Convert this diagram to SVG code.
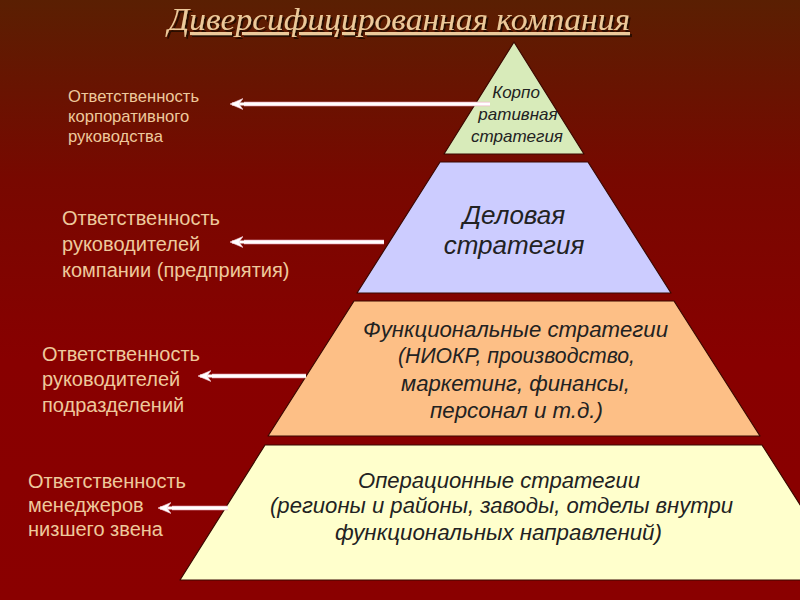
<svg xmlns="http://www.w3.org/2000/svg" width="800" height="600" viewBox="0 0 800 600">
<defs>
<linearGradient id="bg" x1="0" y1="0" x2="0" y2="1">
<stop offset="0" stop-color="#5a1f02"/>
<stop offset="0.3" stop-color="#780800"/>
<stop offset="0.6" stop-color="#880000"/>
<stop offset="1" stop-color="#8a0000"/>
</linearGradient>
<filter id="sh" x="-5%" y="-30%" width="110%" height="160%">
<feDropShadow dx="2" dy="2" stdDeviation="0.6" flood-color="#2a0800" flood-opacity="1"/>
</filter>
<marker id="ah" viewBox="0 0 14 12" refX="11" refY="6" markerWidth="14" markerHeight="12" markerUnits="userSpaceOnUse" orient="auto">
<path d="M0,0.5 L13,6 L0,11.5 L4,6 Z" fill="#ffffff" stroke="#f4c8d4" stroke-width="0.6"/>
</marker>
<style>
.shape{stroke:#3a0800;stroke-width:1.2;stroke-linejoin:round}
.in{font-family:"Liberation Sans",Arial,sans-serif;font-style:italic;fill:#222222;text-anchor:middle}
.lbl{font-family:"Liberation Sans",Arial,sans-serif;fill:#eec99c}
.arw{stroke:#ffffff;stroke-width:3;fill:none;marker-end:url(#ah)}
.arwu{stroke:#f0b8c8;stroke-width:4.5;fill:none}
.title{font-family:"Liberation Serif","Times New Roman",serif;font-style:italic;font-size:31px;text-decoration:underline}
</style>
</defs>
<rect x="0" y="0" width="800" height="600" fill="url(#bg)"/>

<g id="title">
<text class="title" x="168" y="30" fill="#ecc99a" filter="url(#sh)" textLength="462" lengthAdjust="spacingAndGlyphs">Диверсифицированная компания</text>
</g>

<g id="level1">
<polygon class="shape" points="514,42 584,154 444,154" fill="#d8ebba"/>
<text class="in" font-size="17"><tspan x="516" y="98">Корпо</tspan><tspan x="518" y="120">ративная</tspan><tspan x="517" y="142">стратегия</tspan></text>
</g>

<g id="level2">
<polygon class="shape" points="440,162 588,162 671,293 357,293" fill="#ccccff"/>
<text class="in" font-size="26"><tspan x="514" y="224">Деловая</tspan><tspan x="514" y="254">стратегия</tspan></text>
</g>

<g id="level3">
<polygon class="shape" points="354,301 674,301 760,436 268,436" fill="#fdbf86"/>
<text class="in" font-size="21.5">
<tspan x="363" y="337" text-anchor="start" textLength="305" lengthAdjust="spacingAndGlyphs">Функциональные стратегии</tspan>
<tspan x="398" y="363" text-anchor="start" textLength="237" lengthAdjust="spacingAndGlyphs">(НИОКР, производство,</tspan>
<tspan x="401" y="391" text-anchor="start" textLength="229" lengthAdjust="spacingAndGlyphs">маркетинг, финансы,</tspan>
<tspan x="430" y="418" text-anchor="start" textLength="173" lengthAdjust="spacingAndGlyphs">персонал и т.д.)</tspan>
</text>
</g>

<g id="level4">
<polygon class="shape" points="265,445 762,445 848,580 180,580" fill="#ffffcc"/>
<text class="in" font-size="21.5">
<tspan x="358" y="488" text-anchor="start" textLength="282" lengthAdjust="spacingAndGlyphs">Операционные стратегии</tspan>
<tspan x="270" y="513" text-anchor="start" textLength="463" lengthAdjust="spacingAndGlyphs">(регионы и районы, заводы, отделы внутри</tspan>
<tspan x="335" y="540" text-anchor="start" textLength="327" lengthAdjust="spacingAndGlyphs">функциональных направлений)</tspan>
</text>
</g>

<g id="label1">
<text class="lbl" font-size="16.6"><tspan x="68" y="102">Ответственность</tspan><tspan x="68" y="122">корпоративного</tspan><tspan x="68" y="142">руководства</tspan></text>
</g>
<g id="label2">
<text class="lbl" font-size="20"><tspan x="62" y="225">Ответственность</tspan><tspan x="62" y="251">руководителей</tspan><tspan x="62" y="277">компании (предприятия)</tspan></text>
</g>
<g id="label3">
<text class="lbl" font-size="20"><tspan x="42" y="361">Ответственность</tspan><tspan x="42" y="386">руководителей</tspan><tspan x="42" y="412">подразделений</tspan></text>
</g>
<g id="label4">
<text class="lbl" font-size="20"><tspan x="28" y="488">Ответственность</tspan><tspan x="28" y="512">менеджеров</tspan><tspan x="28" y="536">низшего звена</tspan></text>
</g>

<g id="connectors">
<line class="arwu" x1="490" y1="104" x2="244" y2="104"/>
<line class="arw" x1="490" y1="104" x2="232" y2="104"/>
<line class="arwu" x1="384" y1="242" x2="244" y2="242"/>
<line class="arw" x1="384" y1="242" x2="232" y2="242"/>
<line class="arwu" x1="306" y1="376" x2="212" y2="376"/>
<line class="arw" x1="306" y1="376" x2="200" y2="376"/>
<line class="arwu" x1="228" y1="508" x2="172" y2="508"/>
<line class="arw" x1="228" y1="508" x2="160" y2="508"/>
</g>
</svg>
